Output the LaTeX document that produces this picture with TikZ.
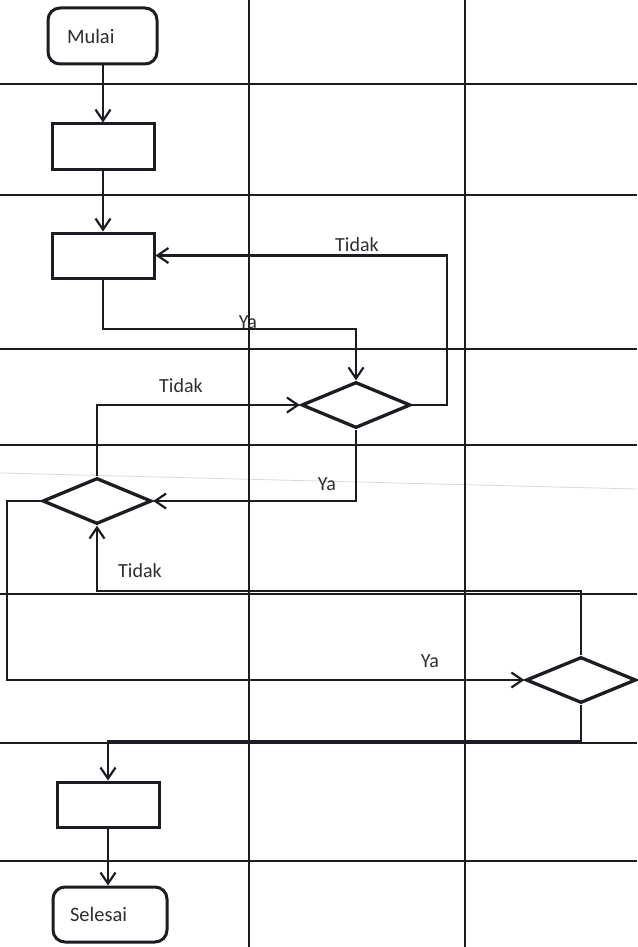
\documentclass[tikz,border=0pt]{standalone}
\usepackage{fontspec}
\setmainfont{Carlito}
\usetikzlibrary{arrows.meta,shapes.geometric}
\definecolor{ink}{HTML}{1C1C22}
\definecolor{txt}{HTML}{2E2E33}
\tikzset{
  gridline/.style={draw=ink,line width=1.8pt},
  term/.style={draw=ink,line width=3pt,rounded corners=12pt,inner ysep=0pt,align=left,font=\fontsize{20.5}{24}\selectfont,text=txt},
  proc/.style={draw=ink,line width=3pt,minimum width=102pt,minimum height=45pt,inner sep=0pt},
  dec/.style={draw=ink,line width=3.3pt,diamond,inner sep=0pt,minimum width=109pt,minimum height=46pt},
  arr/.style={draw=ink,line width=2.2pt,-{Straight Barb[length=11pt,width=15pt]}},
  conn/.style={draw=ink,line width=2.2pt},
  lbl/.style={font=\fontsize{20}{24}\selectfont,text=txt,inner sep=0pt}
}
\begin{document}
\begin{tikzpicture}[x=1pt,y=-1pt]
\useasboundingbox (0,0) rectangle (637,947);
\fill[white] (0,0) rectangle (637,947);
% faint scan line
\draw[gray!30,line width=0.8pt] (0,473) -- (637,489);
% grid
\foreach \yy in {84,195,349,445,594,743,861}{\draw[gridline] (0,\yy) -- (637,\yy);}
\foreach \xx in {249,465}{\draw[gridline] (\xx,0) -- (\xx,947);}
% nodes
\node[term,text width=71pt,inner xsep=19pt,minimum height=56pt] (mulai) at (102.5,36) {Mulai};
\node[proc] (b1) at (103,146.5) {};
\node[proc] (b2) at (103,255.5) {};
\node[dec] (d1) at (356,405) {};
\node[dec] (d2) at (97,501) {};
\node[dec,minimum width=110pt] (d3) at (581,680) {};
\node[proc] (b3) at (108,804.5) {};
\node[term,text width=80pt,inner xsep=17pt,minimum height=55pt] (selesai) at (110,914.5) {Selesai};
% connectors
\draw[arr] (mulai.south -| b1.north) -- (b1.north);
\draw[arr] (b1.south) -- (b2.north);
\draw[arr] (b2.south) -- (b2.south |- 0,329) -| (d1.north);
\draw[arr] (d1.east) -- (447,405) |- (b2.east);
\draw[arr] (d2.north) |- (d1.west);
\draw[arr] (d1.south) |- (d2.east);
\draw[arr] (d2.west) -- (7,501) |- (d3.west);
\draw[arr] (d3.north) |- (97,591) -- (d2.south);
\draw[arr] (d3.south) |- (108,741) -- (b3.north);
\draw[arr] (b3.south) -- (b3.south |- selesai.north);
% labels
\node[lbl] (l1) at (248,322) {Ya};
\node[lbl] (l2) at (357,245) {Tidak};
\node[lbl] (l3) at (181,386) {Tidak};
\node[lbl] (l4) at (327,484) {Ya};
\node[lbl] (l5) at (140,571) {Tidak};
\node[lbl] (l6) at (430,661) {Ya};
\end{tikzpicture}
\end{document}
